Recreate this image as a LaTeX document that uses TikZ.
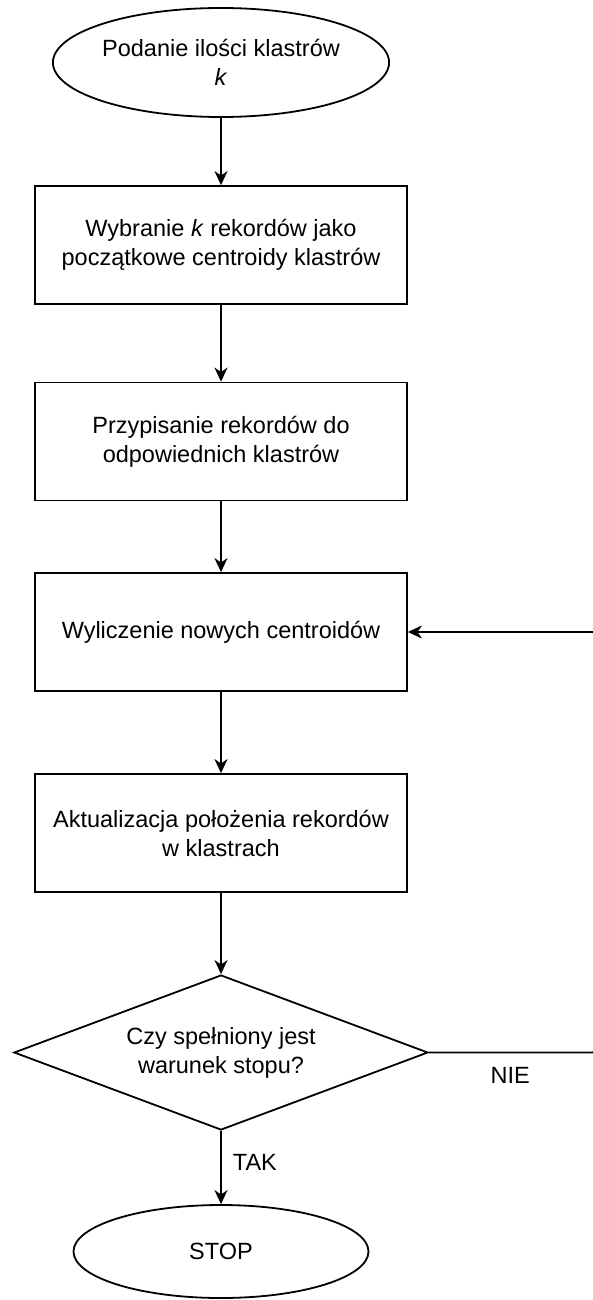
\documentclass[tikz,border=0pt]{standalone}
\usepackage{fontspec}
\setmainfont{Liberation Sans}
\usetikzlibrary{shapes.geometric,arrows.meta}

\tikzset{
  every node/.style={font=\fontsize{11.75pt}{14.5pt}\selectfont, align=center},
  flowline/.style={draw=black, line width=0.9pt},
  flowarrow/.style={flowline, -{Stealth[length=7pt,width=6.5pt,inset=2.2pt]}},
  terminal/.style={ellipse, draw=black, line width=0.9pt, inner sep=0pt},
  processbox/.style={rectangle, draw=black, line width=0.9pt, inner sep=0pt,
    minimum width=186pt, minimum height=59pt},
  decision/.style={diamond, aspect=2.67, draw=black, line width=0.9pt, inner sep=0pt,
    minimum width=207pt, minimum height=77.5pt},
  edgelabel/.style={inner sep=0pt}
}

\begin{document}
\begin{tikzpicture}[x=0.5pt, y=-0.5pt]
  \useasboundingbox (0,0) rectangle (593,1300);
  \clip (0,0) rectangle (593,1300);

  % flow steps
  \node[terminal, minimum width=147pt, minimum height=54.5pt] (start) at (221,62.5)
    {Podanie ilości klastrów\\\textit{k}};
  \node[processbox] (pick) at (221,245)
    {Wybranie \textit{k} rekordów jako\\początkowe centroidy klastrów};
  \node[processbox] (assign) at (221,441.5)
    {Przypisanie rekordów do\\odpowiednich klastrów};
  \node[processbox] (centroids) at (221,632)
    {Wyliczenie nowych centroidów};
  \node[processbox] (update) at (221,833)
    {Aktualizacja położenia rekordów\\w klastrach};
  \node[decision] (check) at (221,1052.5)
    {Czy spełniony jest\\warunek stopu?};
  \node[terminal, minimum width=147.5pt, minimum height=46.5pt] (stop) at (221,1251.5)
    {STOP};

  % return path on the right edge
  \coordinate (loopbottom) at (602,1052.5);
  \coordinate (looptop) at (602,632);

  % connectors
  \draw[flowarrow] (start) -- (pick);
  \draw[flowarrow] (pick) -- (assign);
  \draw[flowarrow] (assign) -- (centroids);
  \draw[flowarrow] (centroids) -- (update);
  \draw[flowarrow] (update) -- (check);
  \draw[flowarrow] (check.south) -- node[edgelabel, pos=0.43, anchor=west, xshift=5.5pt] {TAK} (stop.north);
  \draw[flowarrow, rounded corners=5pt] (check.east)
    -- node[edgelabel, pos=0.47, anchor=north, yshift=-7pt] {NIE} (loopbottom)
    -- (looptop) -- (centroids.east);
\end{tikzpicture}
\end{document}
